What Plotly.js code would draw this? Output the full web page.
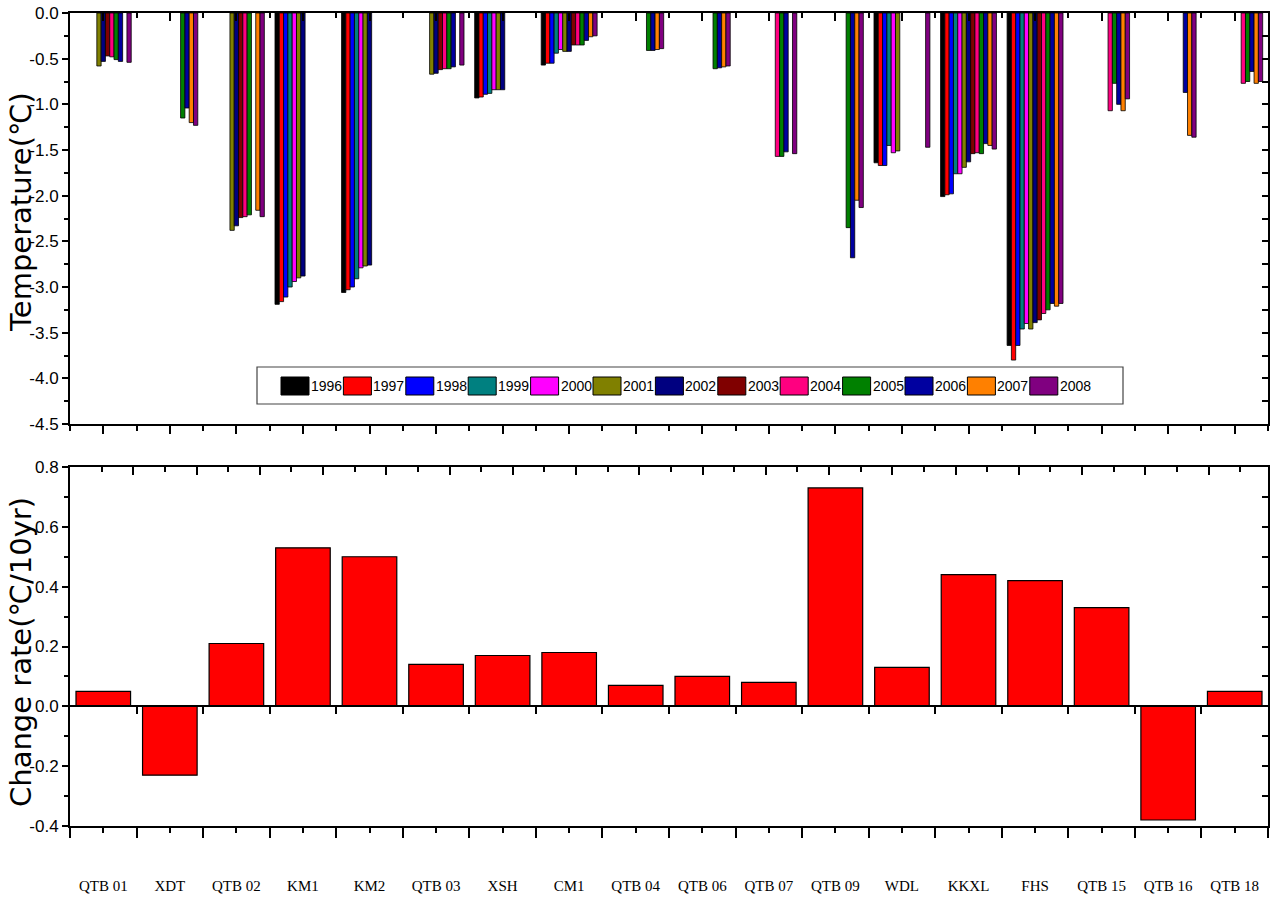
<!DOCTYPE html>
<html>
<head>
<meta charset="utf-8">
<script src="https://cdn.plot.ly/plotly-3.0.1.min.js"></script>
<style>
html,body{margin:0;padding:0;background:#fff;}
#chart{width:1274px;height:903px;}
</style>
</head>
<body>
<div id="chart"></div>
<script>
// ---------------- DATA ----------------
const stations = ['QTB 01','XDT','QTB 02','KM1','KM2','QTB 03','XSH','CM1','QTB 04','QTB 06','QTB 07','QTB 09','WDL','KKXL','FHS','QTB 15','QTB 16','QTB 18'];
const years = ['1996','1997','1998','1999','2000','2001','2002','2003','2004','2005','2006','2007','2008'];
const yearColors = ['#000000','#FF0000','#0000FF','#008080','#FF00FF','#808000','#000080','#800000','#FF0080','#008000','#0000A0','#FF8000','#800080'];

// Temperature (°C) per station, one array per year (null = no data)
const t1996 = [null, null, null, -3.19, -3.06, null, -0.93, -0.57, null, null, null, null, -1.64, -2.01, -3.64, null, null, null];
const t1997 = [null, null, null, -3.16, -3.03, null, -0.92, -0.55, null, null, null, null, -1.67, -1.99, -3.80, null, null, null];
const t1998 = [null, null, null, -3.11, -3.00, null, -0.89, -0.55, null, null, null, null, -1.67, -1.98, -3.64, null, null, null];
const t1999 = [null, null, null, -3.00, -2.91, null, -0.88, -0.44, null, null, null, null, -1.45, -1.76, -3.46, null, null, null];
const t2000 = [null, null, null, -2.94, -2.79, null, -0.84, -0.40, null, null, null, null, -1.53, -1.76, -3.40, null, null, null];
const t2001 = [-0.58, null, -2.38, -2.90, -2.77, -0.67, -0.84, -0.42, null, null, null, null, -1.51, -1.69, -3.46, null, null, null];
const t2002 = [-0.53, null, -2.33, -2.88, -2.76, -0.66, -0.84, -0.42, null, null, null, null, null, -1.63, -3.39, null, null, null];
const t2003 = [-0.47, null, -2.24, null, null, -0.62, null, -0.35, null, null, null, null, null, -1.54, -3.36, null, null, null];
const t2004 = [-0.48, null, -2.23, null, null, -0.61, null, -0.35, null, null, -1.57, null, null, -1.53, -3.29, -1.07, null, -0.77];
const t2005 = [-0.51, -1.15, -2.21, null, null, -0.61, null, -0.35, -0.41, -0.61, -1.57, -2.35, null, -1.54, -3.25, -0.77, null, -0.75];
const t2006 = [-0.53, -1.04, null, null, null, -0.59, null, -0.30, -0.41, -0.60, -1.52, -2.68, null, -1.43, -3.18, -1.00, -0.87, -0.64];
const t2007 = [null, -1.20, -2.16, null, null, null, null, -0.26, -0.40, -0.59, null, -2.05, null, -1.45, -3.21, -1.07, -1.34, -0.77];
const t2008 = [-0.54, -1.23, -2.23, null, null, -0.57, null, -0.25, -0.39, -0.58, -1.54, -2.13, -1.47, -1.49, -3.18, -0.94, -1.36, -0.75];

// Change rate (°C/10yr) per station
const rates = [0.05, -0.23, 0.21, 0.53, 0.50, 0.14, 0.17, 0.18, 0.07, 0.10, 0.08, 0.73, 0.13, 0.44, 0.42, 0.33, -0.38, 0.05];

// Tick labels
const tempTickVals = [0, -0.5, -1.0, -1.5, -2.0, -2.5, -3.0, -3.5, -4.0, -4.5];
const tempTickText = ['0.0', '-0.5', '-1.0', '-1.5', '-2.0', '-2.5', '-3.0', '-3.5', '-4.0', '-4.5'];
const rateTickVals = [0.8, 0.6, 0.4, 0.2, 0.0, -0.2, -0.4];
const rateTickText = ['0.8', '0.6', '0.4', '0.2', '0.0', '-0.2', '-0.4'];

// ---------------- LAYOUT HELPERS ----------------
const W = 1274, H = 903;
const M = {l: 70, r: 6, t: 13, b: 77};
const PW = W - M.l - M.r, PH = H - M.t - M.b;
const px2x = px => (px - M.l) / PW;
const px2y = py => (H - M.b - py) / PH;
const topDomain = [px2y(424), 1];
const botDomain = [0, px2y(467)];
const tempRange = [-4.5, 0];
const rateRange = [-0.4, 0.8];
const catRange = [-0.5, stations.length - 0.5];

const xIdx = stations.map((s, i) => i);
const boundaries = stations.map((s, i) => i - 0.5).concat([stations.length - 0.5]);
const tempSeries = [t1996, t1997, t1998, t1999, t2000, t2001, t2002, t2003, t2004, t2005, t2006, t2007, t2008];

// ---------------- TRACES ----------------
const traces = years.map((yr, i) => ({
  type: 'bar', name: yr, x: xIdx, y: tempSeries[i],
  xaxis: 'x', yaxis: 'y',
  customdata: stations,
  hovertemplate: '%{customdata} ' + yr + ': %{y}<extra></extra>',
  marker: {color: yearColors[i], line: {color: '#000', width: 0.8}},
  showlegend: false
}));
traces.push({
  type: 'bar', name: 'Change rate', x: xIdx, y: rates,
  xaxis: 'x2', yaxis: 'y2', width: 0.82,
  customdata: stations,
  hovertemplate: '%{customdata}: %{y}<extra></extra>',
  marker: {color: '#FF0000', line: {color: '#000', width: 1.2}},
  showlegend: false
});
// empty helper traces so the mirrored frame axes are drawn
const helper = (xa, ya) => ({type: 'scatter', mode: 'markers', x: [], y: [], xaxis: xa, yaxis: ya, showlegend: false, hoverinfo: 'skip'});
traces.push(helper('x3', 'y'), helper('x', 'y3'), helper('x4', 'y2'), helper('x5', 'y2'), helper('x2', 'y4'));

// ---------------- AXES ----------------
const axBase = {showline: true, linecolor: '#000', linewidth: 2, showgrid: false, zeroline: false,
  tickcolor: '#000', tickwidth: 1.5, fixedrange: true};
const minorT = (ticks, len, extra) => Object.assign({ticks: ticks, ticklen: len, tickwidth: 1.5, tickcolor: '#000', showgrid: false}, extra);
const tickFont = {family: 'Liberation Sans, Arial, sans-serif', size: 17, color: '#000'};

const shapes = [];
const annotations = [];

// Legend (drawn as a boxed row like the original)
shapes.push({type: 'rect', xref: 'paper', yref: 'paper', x0: px2x(257), x1: px2x(1123), y0: px2y(404), y1: px2y(367),
  line: {color: '#444', width: 1.2}, fillcolor: 'rgba(255,255,255,0)', layer: 'above'});
years.forEach((yr, i) => {
  const sx = 281 + 62.4 * i;
  shapes.push({type: 'rect', xref: 'paper', yref: 'paper', x0: px2x(sx), x1: px2x(sx + 28), y0: px2y(395), y1: px2y(377),
    fillcolor: yearColors[i], line: {color: '#000', width: 1}, layer: 'above'});
  annotations.push({xref: 'paper', yref: 'paper', x: px2x(sx + 29), y: px2y(386), xanchor: 'left', yanchor: 'middle',
    text: yr, showarrow: false, borderpad: 0,
    font: {family: 'Liberation Sans, Arial, sans-serif', size: 14, color: '#000'}});
});

// Axis titles
annotations.push({xref: 'paper', yref: 'paper', x: px2x(21), y: px2y(212), xanchor: 'center', yanchor: 'middle',
  textangle: -90, text: 'Temperature(℃)', showarrow: false,
  font: {family: 'DejaVu Sans, Liberation Sans, sans-serif', size: 29, color: '#000'}});
annotations.push({xref: 'paper', yref: 'paper', x: px2x(21), y: px2y(652), xanchor: 'center', yanchor: 'middle',
  textangle: -90, text: 'Change rate(℃/10yr)', showarrow: false,
  font: {family: 'DejaVu Sans, Liberation Sans, sans-serif', size: 29, color: '#000'}});

const layout = {
  width: W, height: H,
  margin: {l: M.l, r: M.r, t: M.t, b: M.b, pad: 0},
  paper_bgcolor: '#fff', plot_bgcolor: '#fff',
  barmode: 'group', bargap: 0.16, bargroupgap: 0,
  showlegend: false,
  font: {family: 'Liberation Sans, Arial, sans-serif', color: '#000'},

  // top panel
  xaxis: Object.assign({}, axBase, {domain: [0, 1], anchor: 'y', range: catRange,
    tickmode: 'linear', tick0: 0, dtick: 1, ticks: 'outside', ticklen: 8, showticklabels: false,
    minor: minorT('outside', 5, {tickmode: 'linear', tick0: -0.5, dtick: 1})}),
  xaxis3: Object.assign({}, axBase, {overlaying: 'x', anchor: 'y', side: 'top', range: catRange,
    tickmode: 'linear', tick0: 0, dtick: 1, ticks: 'inside', ticklen: 8, showticklabels: false,
    minor: minorT('inside', 5, {tickmode: 'linear', tick0: -0.5, dtick: 1})}),
  yaxis: Object.assign({}, axBase, {domain: topDomain, anchor: 'x', range: tempRange,
    tickmode: 'array', tickvals: tempTickVals, ticktext: tempTickText, ticks: 'outside', ticklen: 6,
    tickfont: tickFont,
    minor: minorT('outside', 4, {tickmode: 'linear', tick0: 0, dtick: 0.25})}),
  yaxis3: Object.assign({}, axBase, {overlaying: 'y', anchor: 'x', side: 'right', range: tempRange,
    tickmode: 'linear', tick0: 0, dtick: 0.25, ticks: 'inside', ticklen: 6, showticklabels: false}),

  // bottom panel
  xaxis2: Object.assign({}, axBase, {domain: [0, 1], anchor: 'y2', range: catRange,
    tickmode: 'array', tickvals: xIdx, ticktext: stations, ticks: 'outside', ticklen: 5,
    tickfont: {family: 'Liberation Serif, Times New Roman, serif', size: 15, color: '#000'},
    ticklabelstandoff: 40,
    minor: minorT('outside', 10, {tickmode: 'array', tickvals: boundaries})}),
  xaxis4: Object.assign({}, axBase, {overlaying: 'x2', anchor: 'y2', side: 'top', range: [0, 18.94],
    tickmode: 'linear', tick0: 0, dtick: 1, ticks: 'inside', ticklen: 8, showticklabels: false,
    minor: minorT('inside', 5, {tickmode: 'linear', tick0: 0.5, dtick: 1})}),
  xaxis5: Object.assign({}, axBase, {overlaying: 'x2', anchor: 'free',
    position: botDomain[1] * (0 - rateRange[0]) / (rateRange[1] - rateRange[0]),
    range: catRange, tickmode: 'array', tickvals: boundaries.slice(1, -1),
    ticks: 'outside', ticklen: 7, showticklabels: false}),
  yaxis2: Object.assign({}, axBase, {domain: botDomain, anchor: 'x2', range: rateRange,
    tickmode: 'array', tickvals: rateTickVals, ticktext: rateTickText, ticks: 'outside', ticklen: 6,
    tickfont: tickFont,
    minor: minorT('outside', 4, {tickmode: 'linear', tick0: 0, dtick: 0.1})}),
  yaxis4: Object.assign({}, axBase, {overlaying: 'y2', anchor: 'x2', side: 'right', range: rateRange,
    tickmode: 'linear', tick0: 0, dtick: 0.1, ticks: 'inside', ticklen: 6, showticklabels: false}),

  shapes: shapes,
  annotations: annotations
};

Plotly.newPlot('chart', traces, layout, {displayModeBar: false, staticPlot: false, responsive: false});
</script>
</body>
</html>
